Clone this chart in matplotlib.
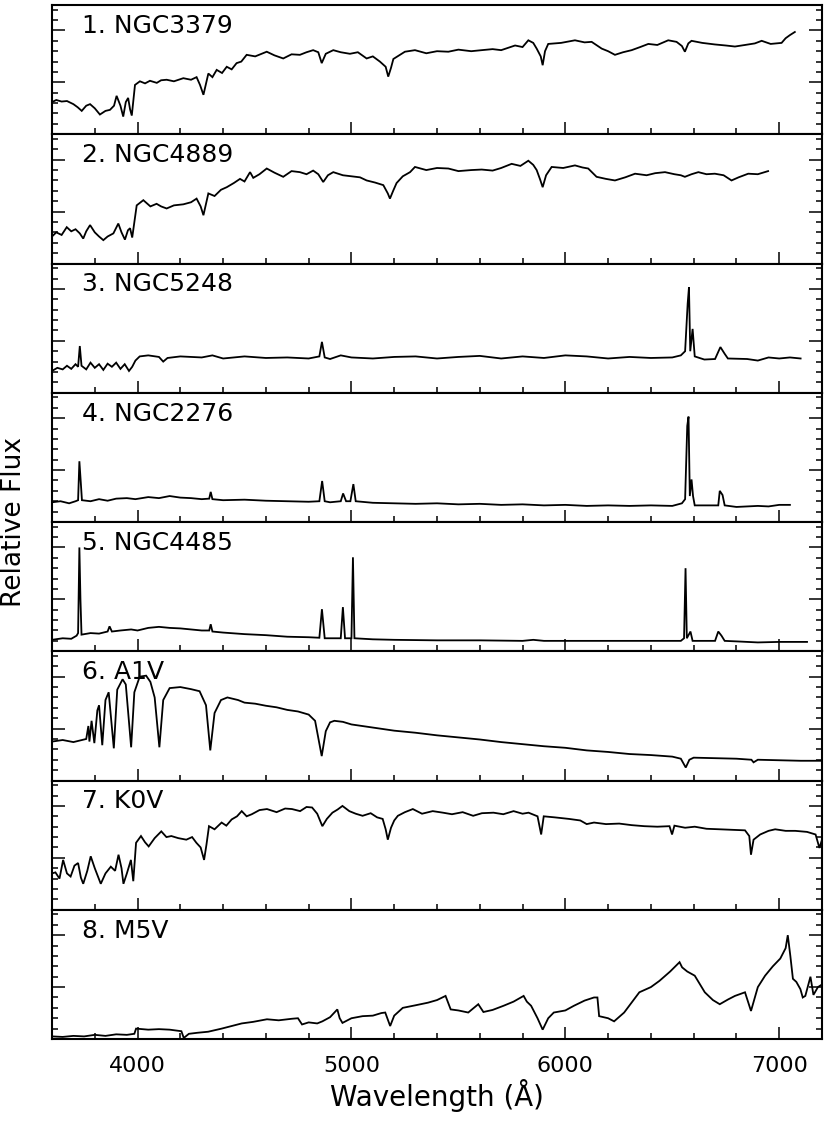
import matplotlib
matplotlib.use("Agg")
import matplotlib.pyplot as plt
from matplotlib.ticker import MultipleLocator, NullFormatter

# ---------------- data ----------------
panel_labels = ["1. NGC3379", "2. NGC4889", "3. NGC5248", "4. NGC2276",
                "5. NGC4485", "6. A1V", "7. K0V", "8. M5V"]
xtick_values = [4000, 5000, 6000, 7000]

ngc3379_wave = [3600, 3620, 3645, 3670, 3700, 3720, 3739, 3760, 3778, 3800, 3824, 3850, 3871, 3890,
                3902, 3920, 3933, 3945, 3956, 3965, 3973, 3988, 4011, 4035, 4058, 4090, 4110, 4136,
                4170, 4214, 4250, 4276, 4292, 4308, 4331, 4350, 4370, 4395, 4417, 4440, 4463, 4485,
                4510, 4550, 4604, 4640, 4681, 4720, 4759, 4790, 4821, 4845, 4861, 4880, 4915, 4950,
                4993, 5030, 5071, 5100, 5133, 5160, 5172, 5185, 5196, 5250, 5297, 5350, 5400, 5453,
                5500, 5560, 5609, 5660, 5700, 5765, 5800, 5827, 5850, 5866, 5885, 5894, 5905, 5920,
                5980, 6045, 6090, 6123, 6170, 6200, 6232, 6270, 6310, 6350, 6388, 6430, 6481, 6520,
                6545, 6559, 6575, 6590, 6640, 6699, 6750, 6793, 6840, 6886, 6918, 6960, 7011, 7030,
                7050, 7073]
ngc3379_flux = [0.62, 0.66, 0.63, 0.64, 0.58, 0.52, 0.45, 0.55, 0.58, 0.50, 0.38, 0.45, 0.47, 0.55,
                0.74, 0.55, 0.34, 0.62, 0.70, 0.48, 0.36, 0.95, 1.02, 0.98, 1.03, 0.99, 1.04, 1.05,
                1.02, 1.08, 1.05, 1.10, 0.95, 0.76, 1.17, 1.10, 1.24, 1.18, 1.30, 1.25, 1.37, 1.40,
                1.53, 1.50, 1.59, 1.52, 1.46, 1.54, 1.53, 1.58, 1.62, 1.58, 1.37, 1.55, 1.62, 1.58,
                1.55, 1.58, 1.46, 1.50, 1.40, 1.30, 1.11, 1.28, 1.45, 1.59, 1.62, 1.56, 1.60, 1.59,
                1.63, 1.60, 1.62, 1.64, 1.62, 1.71, 1.68, 1.81, 1.76, 1.65, 1.50, 1.33, 1.60, 1.74,
                1.76, 1.81, 1.77, 1.78, 1.65, 1.60, 1.53, 1.58, 1.62, 1.68, 1.74, 1.72, 1.81, 1.78,
                1.70, 1.59, 1.75, 1.80, 1.76, 1.73, 1.71, 1.69, 1.72, 1.75, 1.80, 1.74, 1.76, 1.85,
                1.91, 1.97]

ngc4889_wave = [3600, 3620, 3645, 3669, 3690, 3710, 3730, 3746, 3760, 3778, 3800, 3820, 3840, 3860,
                3887, 3910, 3925, 3941, 3955, 3965, 3975, 3996, 4027, 4060, 4089, 4110, 4136, 4170,
                4214, 4250, 4276, 4295, 4308, 4331, 4360, 4390, 4417, 4450, 4479, 4500, 4526, 4541,
                4570, 4604, 4640, 4681, 4720, 4759, 4790, 4821, 4845, 4868, 4890, 4915, 4960, 5000,
                5040, 5071, 5110, 5149, 5170, 5180, 5195, 5211, 5240, 5274, 5297, 5350, 5400, 5453,
                5500, 5560, 5609, 5660, 5700, 5749, 5790, 5827, 5850, 5866, 5882, 5894, 5910, 5936,
                5990, 6045, 6080, 6107, 6146, 6190, 6232, 6280, 6326, 6380, 6420, 6466, 6510, 6540,
                6559, 6590, 6622, 6660, 6699, 6740, 6777, 6810, 6855, 6900, 6948]
ngc4889_flux = [0.52, 0.60, 0.55, 0.70, 0.62, 0.66, 0.58, 0.48, 0.62, 0.74, 0.60, 0.52, 0.45, 0.52,
                0.58, 0.77, 0.60, 0.46, 0.64, 0.68, 0.50, 1.12, 1.22, 1.10, 1.15, 1.10, 1.06, 1.12,
                1.14, 1.18, 1.25, 1.10, 0.93, 1.35, 1.30, 1.42, 1.47, 1.55, 1.63, 1.58, 1.76, 1.65,
                1.72, 1.83, 1.75, 1.67, 1.78, 1.76, 1.72, 1.79, 1.72, 1.57, 1.70, 1.76, 1.70, 1.68,
                1.66, 1.60, 1.56, 1.51, 1.35, 1.25, 1.40, 1.55, 1.68, 1.76, 1.86, 1.80, 1.84, 1.83,
                1.78, 1.80, 1.81, 1.79, 1.84, 1.92, 1.88, 1.98, 1.90, 1.80, 1.62, 1.47, 1.70, 1.86,
                1.84, 1.89, 1.85, 1.83, 1.67, 1.63, 1.60, 1.66, 1.73, 1.70, 1.74, 1.76, 1.72, 1.70,
                1.67, 1.72, 1.76, 1.72, 1.73, 1.70, 1.60, 1.66, 1.73, 1.72, 1.78]

ngc5248_wave = [3600, 3625, 3650, 3670, 3690, 3710, 3722, 3730, 3738, 3760, 3780, 3800, 3820, 3840,
                3860, 3880, 3900, 3920, 3940, 3960, 3975, 3990, 4010, 4050, 4100, 4120, 4140, 4200,
                4300, 4350, 4400, 4500, 4600, 4700, 4800, 4850, 4862, 4875, 4900, 4950, 5000, 5100,
                5200, 5300, 5400, 5500, 5600, 5700, 5800, 5900, 6000, 6100, 6200, 6300, 6400, 6500,
                6540, 6560, 6572, 6578, 6584, 6595, 6605, 6650, 6700, 6725, 6745, 6760, 6850, 6900,
                6950, 7000, 7050, 7100]
ngc5248_flux = [0.42, 0.48, 0.45, 0.52, 0.46, 0.55, 0.50, 0.90, 0.52, 0.45, 0.58, 0.48, 0.55, 0.44,
                0.56, 0.50, 0.58, 0.46, 0.55, 0.42, 0.50, 0.62, 0.70, 0.72, 0.69, 0.60, 0.67, 0.70,
                0.68, 0.72, 0.66, 0.70, 0.67, 0.68, 0.66, 0.70, 0.98, 0.68, 0.65, 0.72, 0.68, 0.66,
                0.69, 0.70, 0.66, 0.69, 0.71, 0.66, 0.70, 0.67, 0.72, 0.70, 0.66, 0.69, 0.67, 0.68,
                0.72, 0.80, 1.72, 2.03, 0.80, 1.23, 0.70, 0.64, 0.65, 0.88, 0.75, 0.66, 0.65, 0.62,
                0.68, 0.66, 0.68, 0.66]

ngc2276_wave = [3600, 3640, 3680, 3710, 3722, 3728, 3734, 3740, 3780, 3820, 3860, 3900, 3950, 3990,
                4050, 4100, 4150, 4200, 4250, 4300, 4335, 4342, 4350, 4400, 4500, 4600, 4700, 4800,
                4850, 4863, 4875, 4900, 4950, 4961, 4975, 4995, 5009, 5020, 5100, 5200, 5300, 5400,
                5500, 5600, 5700, 5800, 5900, 6000, 6100, 6200, 6300, 6400, 6500, 6545, 6560, 6570,
                6576, 6582, 6590, 6597, 6605, 6715, 6722, 6735, 6745, 6800, 6900, 6950, 7000, 7050]
ngc2276_flux = [0.38, 0.40, 0.36, 0.40, 0.42, 1.17, 0.80, 0.42, 0.40, 0.44, 0.41, 0.45, 0.46, 0.44,
                0.48, 0.46, 0.50, 0.47, 0.46, 0.44, 0.45, 0.58, 0.44, 0.42, 0.43, 0.41, 0.40, 0.39,
                0.40, 0.79, 0.40, 0.38, 0.40, 0.55, 0.40, 0.40, 0.73, 0.40, 0.37, 0.36, 0.35, 0.36,
                0.34, 0.35, 0.33, 0.34, 0.32, 0.33, 0.31, 0.32, 0.31, 0.32, 0.31, 0.36, 0.44, 1.85,
                2.03, 0.50, 0.82, 0.50, 0.32, 0.32, 0.60, 0.52, 0.32, 0.29, 0.31, 0.30, 0.33, 0.33]

ngc4485_wave = [3600, 3650, 3690, 3715, 3722, 3728, 3733, 3738, 3780, 3820, 3860, 3869, 3880, 3920,
                3970, 4000, 4050, 4100, 4150, 4200, 4250, 4300, 4335, 4342, 4350, 4400, 4500, 4600,
                4700, 4800, 4850, 4862, 4875, 4950, 4960, 4970, 5000, 5007, 5014, 5100, 5200, 5400,
                5600, 5800, 5850, 5900, 6000, 6200, 6400, 6540, 6555, 6562, 6568, 6585, 6595, 6700,
                6715, 6730, 6745, 6800, 6900, 7000, 7130]
ngc4485_flux = [0.22, 0.25, 0.24, 0.30, 0.35, 2.00, 1.00, 0.32, 0.35, 0.34, 0.38, 0.48, 0.38, 0.40,
                0.42, 0.40, 0.45, 0.47, 0.45, 0.44, 0.42, 0.40, 0.40, 0.52, 0.38, 0.36, 0.33, 0.31,
                0.28, 0.27, 0.26, 0.81, 0.25, 0.25, 0.85, 0.25, 0.25, 1.81, 0.25, 0.23, 0.22, 0.21,
                0.21, 0.20, 0.22, 0.20, 0.20, 0.20, 0.20, 0.20, 0.25, 1.60, 0.25, 0.38, 0.20, 0.20,
                0.38, 0.30, 0.20, 0.19, 0.17, 0.18, 0.18]

a1v_wave = [3600, 3650, 3700, 3740, 3760, 3770, 3775, 3785, 3798, 3812, 3820, 3835, 3850, 3865,
            3889, 3905, 3930, 3945, 3970, 3985, 4010, 4040, 4060, 4080, 4102, 4120, 4150, 4200,
            4250, 4290, 4320, 4340, 4360, 4390, 4420, 4470, 4500, 4550, 4600, 4650, 4700, 4750,
            4800, 4830, 4861, 4880, 4900, 4920, 4960, 5000, 5100, 5200, 5300, 5400, 5500, 5600,
            5700, 5800, 5900, 6000, 6100, 6200, 6300, 6400, 6500, 6540, 6563, 6580, 6600, 6700,
            6800, 6870, 6880, 6900, 7000, 7100, 7200]
a1v_flux = [0.75, 0.78, 0.74, 0.78, 0.80, 1.05, 0.75, 1.15, 0.72, 1.35, 1.45, 0.68, 1.55, 1.70,
            0.62, 1.75, 1.95, 1.85, 0.64, 1.70, 2.00, 2.02, 1.90, 1.60, 0.64, 1.55, 1.78, 1.80,
            1.76, 1.72, 1.45, 0.58, 1.30, 1.55, 1.60, 1.55, 1.50, 1.48, 1.44, 1.41, 1.36, 1.33,
            1.27, 1.15, 0.47, 0.95, 1.12, 1.15, 1.13, 1.08, 1.02, 0.96, 0.92, 0.87, 0.83, 0.79,
            0.74, 0.70, 0.66, 0.63, 0.58, 0.55, 0.51, 0.49, 0.46, 0.42, 0.25, 0.40, 0.44, 0.43,
            0.42, 0.40, 0.35, 0.40, 0.39, 0.38, 0.38]

k0v_wave = [3600, 3616, 3635, 3652, 3670, 3687, 3705, 3722, 3735, 3746, 3765, 3781, 3800, 3828,
            3850, 3875, 3895, 3911, 3925, 3934, 3950, 3969, 3980, 3993, 4016, 4035, 4052, 4080,
            4111, 4135, 4158, 4190, 4228, 4255, 4275, 4295, 4311, 4322, 4334, 4360, 4393, 4415,
            4440, 4465, 4487, 4510, 4534, 4570, 4605, 4650, 4690, 4722, 4760, 4790, 4816, 4840,
            4864, 4885, 4911, 4935, 4958, 4990, 5020, 5052, 5090, 5120, 5146, 5160, 5170, 5185,
            5200, 5217, 5250, 5287, 5330, 5380, 5428, 5470, 5520, 5569, 5610, 5664, 5710, 5758,
            5800, 5828, 5870, 5887, 5899, 5950, 6017, 6070, 6100, 6134, 6190, 6252, 6310, 6369,
            6430, 6487, 6499, 6510, 6560, 6605, 6660, 6722, 6780, 6840, 6860, 6868, 6880, 6911,
            6950, 6981, 7030, 7075, 7130, 7170, 7188, 7200]
k0v_flux = [0.70, 0.72, 0.60, 0.96, 0.70, 0.64, 0.85, 0.90, 0.62, 0.50, 0.75, 1.03, 0.80, 0.50,
            0.70, 0.83, 0.75, 1.06, 0.80, 0.50, 0.70, 0.96, 0.55, 1.29, 1.42, 1.30, 1.22, 1.38,
            1.51, 1.40, 1.42, 1.38, 1.35, 1.40, 1.29, 1.20, 0.96, 1.25, 1.61, 1.55, 1.68, 1.62,
            1.74, 1.80, 1.90, 1.80, 1.84, 1.92, 1.94, 1.88, 1.95, 1.94, 1.90, 1.98, 1.97, 1.85,
            1.61, 1.75, 1.87, 1.93, 2.00, 1.90, 1.85, 1.81, 1.86, 1.78, 1.75, 1.55, 1.35, 1.58,
            1.72, 1.81, 1.88, 1.94, 1.85, 1.90, 1.87, 1.84, 1.88, 1.81, 1.86, 1.87, 1.84, 1.90,
            1.85, 1.87, 1.80, 1.45, 1.80, 1.78, 1.75, 1.72, 1.65, 1.68, 1.65, 1.66, 1.63, 1.61,
            1.60, 1.61, 1.45, 1.62, 1.58, 1.60, 1.56, 1.55, 1.54, 1.53, 1.42, 1.06, 1.35, 1.45,
            1.52, 1.55, 1.52, 1.52, 1.50, 1.45, 1.19, 1.35]

m5v_wave = [3600, 3650, 3700, 3750, 3800, 3850, 3900, 3950, 3985, 3993, 4050, 4100, 4150, 4205,
            4216, 4240, 4280, 4330, 4393, 4440, 4487, 4540, 4605, 4660, 4722, 4750, 4769, 4800,
            4840, 4864, 4900, 4934, 4945, 4958, 5000, 5052, 5100, 5140, 5158, 5181, 5200, 5240,
            5300, 5358, 5400, 5440, 5464, 5500, 5546, 5593, 5617, 5660, 5711, 5758, 5805, 5820,
            5840, 5870, 5894, 5920, 5946, 6000, 6040, 6090, 6134, 6150, 6158, 6200, 6228, 6275,
            6346, 6400, 6440, 6490, 6534, 6546, 6570, 6605, 6652, 6690, 6722, 6760, 6793, 6840,
            6868, 6900, 6934, 6970, 7005, 7030, 7040, 7052, 7064, 7080, 7099, 7110, 7122, 7146,
            7160, 7181, 7200]
m5v_flux = [0.05, 0.04, 0.06, 0.05, 0.08, 0.06, 0.09, 0.08, 0.10, 0.20, 0.18, 0.19, 0.18, 0.15,
            0.02, 0.10, 0.12, 0.14, 0.20, 0.25, 0.30, 0.33, 0.38, 0.36, 0.39, 0.40, 0.28, 0.32,
            0.30, 0.34, 0.42, 0.57, 0.40, 0.31, 0.40, 0.44, 0.45, 0.50, 0.51, 0.25, 0.45, 0.60,
            0.65, 0.70, 0.75, 0.83, 0.57, 0.55, 0.51, 0.67, 0.52, 0.56, 0.64, 0.72, 0.83, 0.72,
            0.64, 0.40, 0.18, 0.40, 0.51, 0.55, 0.64, 0.74, 0.80, 0.80, 0.44, 0.40, 0.34, 0.51,
            0.90, 1.00, 1.12, 1.30, 1.48, 1.38, 1.30, 1.22, 0.90, 0.75, 0.67, 0.76, 0.83, 0.90,
            0.54, 1.00, 1.22, 1.40, 1.55, 1.75, 2.00, 1.60, 1.16, 1.10, 0.96, 0.80, 0.83, 1.20,
            0.85, 1.00, 1.05]

spectra = [(ngc3379_wave, ngc3379_flux), (ngc4889_wave, ngc4889_flux),
           (ngc5248_wave, ngc5248_flux), (ngc2276_wave, ngc2276_flux),
           (ngc4485_wave, ngc4485_flux), (a1v_wave, a1v_flux),
           (k0v_wave, k0v_flux), (m5v_wave, m5v_flux)]

# ---------------- figure ----------------
plt.rcParams['font.family'] = ['DejaVu Sans']
fig = plt.figure(figsize=(8.3, 11.25), dpi=100)
fig.patch.set_facecolor("white")
left, right = 52 / 830, 822 / 830
top, bottom = 1 - 5 / 1125, 1 - 1039 / 1125
gs = fig.add_gridspec(8, 1, left=left, right=right, top=top, bottom=bottom, hspace=0)

axes = []
for i, (lab, (w, f)) in enumerate(zip(panel_labels, spectra)):
    ax = fig.add_subplot(gs[i, 0], sharex=axes[0] if axes else None)
    axes.append(ax)
    ax.plot(w, f, color="black", lw=1.3, solid_joinstyle="miter")
    ax.set_xlim(3600, 7200)
    ax.set_ylim(0, 2.49)
    ax.xaxis.set_major_locator(MultipleLocator(1000))
    ax.xaxis.set_minor_locator(MultipleLocator(200))
    ax.yaxis.set_major_locator(MultipleLocator(1))
    ax.yaxis.set_minor_locator(MultipleLocator(0.2))
    ax.yaxis.set_major_formatter(NullFormatter())
    ax.tick_params(which="both", direction="in", top=False, bottom=True,
                   left=True, right=True, width=1.1, colors="black")
    ax.tick_params(which="major", length=9.5)
    ax.tick_params(which="minor", length=4.5)
    ax.tick_params(axis="x", which="major", length=9)
    for s in ax.spines.values():
        s.set_linewidth(1.5)
    ax.text(30 / 770, 1 - 28 / 129.4, lab, transform=ax.transAxes,
            fontsize=18, ha="left", va="baseline", color="black")
    if i < 7:
        ax.tick_params(labelbottom=False)

axes[-1].set_xticks(xtick_values)
axes[-1].set_xticklabels([str(v) for v in xtick_values])
axes[-1].tick_params(axis="x", labelsize=16, pad=12)

fig.text(437 / 830, 1 - 1095 / 1125, "Wavelength (Å)", fontsize=20,
         ha="center", va="center")
fig.text(14 / 830, 1 - 522 / 1125, "Relative Flux", fontsize=19,
         ha="center", va="center", rotation=90)

fig.savefig("out.png", dpi=100, facecolor="white")
